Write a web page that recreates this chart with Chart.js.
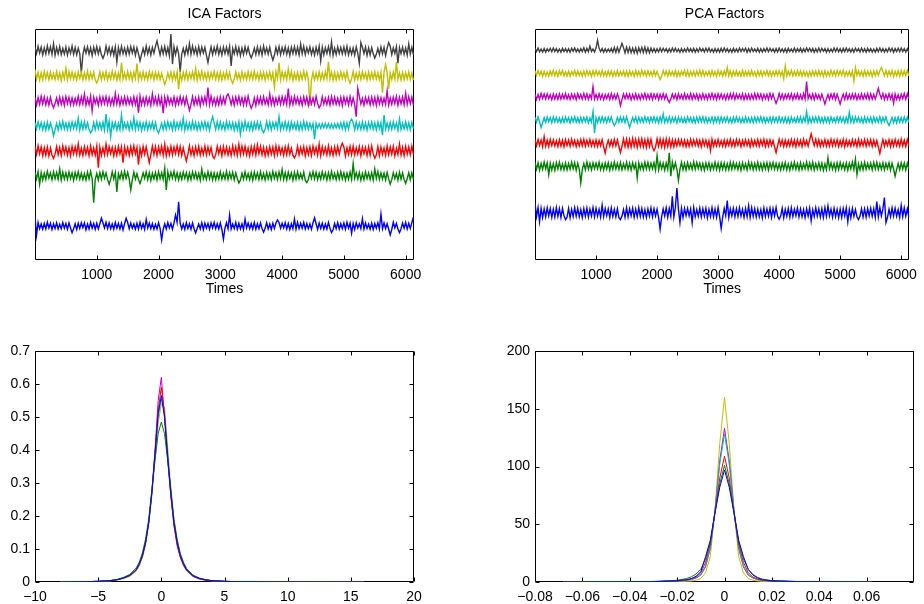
<!DOCTYPE html>
<html>
<head>
<meta charset="utf-8">
<title>ICA / PCA Factors</title>
<script src="https://cdn.jsdelivr.net/npm/chart.js@4.4.1/dist/chart.umd.min.js"></script>
<style>
  body { margin: 0; background: #fff; }
  #wrap { position: relative; width: 924px; height: 604px; }
  canvas { position: absolute; }
</style>
</head>
<body>
<div id="wrap">
  <canvas id="icaTime" width="462" height="302" style="left:0;top:0"></canvas>
  <canvas id="pcaTime" width="462" height="302" style="left:462px;top:0"></canvas>
  <canvas id="icaDens" width="462" height="302" style="left:0;top:302px"></canvas>
  <canvas id="pcaDens" width="462" height="302" style="left:462px;top:302px"></canvas>
</div>
<script>
// ---- data ----
// factor time series, one sample every 25 time steps. Values are deviations
// from the factor's stacking offset in hundredths of one offset unit.
// *Band arrays hold the dense noise, *Spikes the visible outliers [time, value].
const sampleStep = 25;
const timeMax = 6135;
const timeTicks = [1000, 2000, 3000, 4000, 5000, 6000];
const factorOffsets = [0, 2, 3, 4, 5, 6, 7];          // blue .. gray
const factorColors = ['#0000ff', '#008000', '#ff0000', '#00bfbf', '#bf00bf', '#bfbf00', '#404040'];

// ICA factors
const icaBlueBand = [
  12,-9,14,-11,8,-13,10,-12,15,-8,11,-14,9,-10,13,-12,7,-11,14,-9,
  10,-13,12,-8,15,-11,9,-14,11,-10,13,-7,12,-15,8,-12,14,-9,10,-13,
  11,-12,9,-14,13,-8,15,-10,12,-11,8,-13,14,-9,10,-12,11,-15,9,-10,
  14,-11,12,-9,8,-13,11,-12,15,-10,9,-14,13,-8,12,-11,10,-13,7,-12,
  13,-10,11,-14,9,-12,14,-8,10,-13,12,-11,15,-9,11,-12,8,-14,13,-10,
  9,-13,12,-11,14,-10,8,-12,13,-15,11,-9,10,-13,12,-8,14,-11,9,-12,
  12,-14,10,-9,13,-11,15,-12,8,-10,14,-13,11,-12,9,-14,13,-8,12,-11,
  10,-12,14,-13,9,-11,12,-10,15,-9,13,-12,8,-14,11,-10,12,-13,14,-9,
  11,-8,13,-12,10,-14,9,-11,12,-13,15,-10,11,-9,14,-12,10,-11,8,-13,
  13,-11,9,-14,12,-10,11,-13,8,-12,14,-9,12,-15,10,-11,13,-12,9,-10,
  12,-13,15,-9,11,-12,10,-14,13,-8,9,-11,14,-12,12,-10,8,-13,11,-14,
  10,-9,13,-12,14,-11,12,-10,9,-13,11,-14,15,-8,10,-12,13,-11,12,-9,
  14,-12,11,-10,13,-11];
const icaBlueSpikes = [[0,37],[25,-36],[600,-27],[1065,31],[1476,31],[1800,26],[2054,-56],[2270,44],
  [2335,97],[2600,-28],[3043,-53],[3151,44],[3400,27],[3700,-25],[3919,24],[4200,28],[4514,33],
  [4800,-26],[5135,-29],[5300,29],[5595,48],[5746,-36],[5900,-27],[6125,35]];

const icaGreenBand = [
  15,-12,17,-10,13,-16,11,-14,18,-9,12,-15,16,-11,14,-13,10,-17,15,-12,
  13,-14,16,-11,12,-18,14,-10,17,-13,11,-15,9,-16,15,-12,18,-11,13,-14,
  10,-16,14,-13,17,-9,12,-15,11,-14,16,-12,13,-17,10,-11,15,-13,18,-10,
  14,-12,11,-16,15,-13,9,-14,17,-11,12,-10,16,-15,13,-18,11,-12,14,-16,
  17,-11,13,-14,10,-15,16,-12,14,-9,18,-13,12,-16,11,-14,15,-10,13,-17,
  12,-15,16,-10,14,-13,11,-17,15,-12,9,-14,17,-11,13,-16,12,-15,10,-13,
  16,-13,10,-12,18,-14,13,-11,15,-16,12,-10,14,-17,11,-13,16,-12,9,-15,
  13,-17,15,-11,12,-14,17,-13,10,-16,14,-12,11,-15,18,-10,13,-14,16,-11,
  11,-14,13,-16,15,-10,12,-17,14,-13,16,-11,9,-12,15,-18,13,-14,12,-10,
  17,-12,14,-15,11,-13,16,-10,12,-16,13,-14,18,-11,10,-15,14,-13,17,-12,
  12,-16,11,-13,15,-14,17,-9,13,-12,14,-17,10,-15,16,-11,12,-14,13,-16,
  15,-10,18,-14,12,-13,11,-16,14,-12,17,-15,13,-11,10,-17,15,-13,12,-14,
  16,-11,13,-15,12,-14];
const icaGreenSpikes = [[81,-33],[400,28],[962,-107],[1189,-33],[1314,-64],[1551,-56],[1700,-30],
  [2100,31],[2125,-56],[2700,27],[3300,-28],[4000,26],[4400,-27],[5162,49],[5500,28],[5746,-33],[6000,-30]];

const icaRedBand = [
  18,-14,20,-12,16,-19,13,-17,15,-20,12,-16,19,-13,17,-15,14,-18,20,-11,
  15,-17,13,-20,18,-12,16,-14,19,-16,11,-18,17,-13,14,-19,20,-15,12,-17,
  19,-13,15,-18,12,-16,20,-14,17,-11,14,-19,13,-17,18,-12,16,-20,15,-14,
  13,-18,17,-15,20,-12,14,-16,11,-19,18,-13,16,-17,12,-15,19,-14,17,-18,
  16,-12,19,-17,14,-20,13,-15,18,-16,15,-11,20,-14,17,-18,12,-16,14,-13,
  20,-15,12,-19,16,-13,18,-17,11,-14,19,-16,15,-12,13,-20,17,-15,18,-11,
  14,-19,17,-13,15,-16,12,-18,20,-14,16,-17,13,-15,19,-12,18,-16,11,-20,
  17,-14,19,-16,13,-11,18,-15,14,-20,12,-17,16,-13,15,-19,20,-14,17,-12,
  12,-18,16,-15,20,-13,11,-17,19,-14,18,-16,14,-12,17,-20,13,-15,16,-18,
  19,-11,14,-17,15,-19,17,-12,13,-16,20,-15,12,-18,16,-14,18,-13,15,-17,
  16,-20,13,-14,18,-15,19,-16,12,-13,17,-19,15,-11,14,-18,16,-17,20,-12,
  13,-16,17,-19,15,-14,12,-18,19,-15,16,-13,18,-20,11,-14,17,-16,14,-19,
  18,-13,16,-15,19,-14];
const icaRedSpikes = [[300,-30],[700,28],[1027,-67],[1151,27],[1432,-47],[1676,-55],[1838,-47],
  [2108,27],[2459,-40],[2900,-30],[3300,26],[3595,24],[4200,-28],[4600,27],[4984,31],[5500,-29],[5900,27]];

const icaCyanBand = [
  14,-12,16,-10,13,-15,11,-17,15,-13,12,-9,17,-14,10,-16,13,-11,18,-12,
  11,-15,13,-14,16,-10,14,-12,9,-16,15,-13,17,-11,12,-14,10,-18,13,-15,
  16,-11,12,-13,15,-17,10,-14,18,-12,13,-10,14,-16,11,-15,17,-13,12,-9,
  13,-16,15,-11,10,-14,17,-12,14,-18,11,-13,16,-15,12,-10,15,-14,13,-17,
  17,-10,11,-15,14,-13,16,-9,12,-16,18,-14,13,-11,15,-12,10,-17,14,-13,
  12,-14,18,-12,13,-16,11,-15,14,-10,16,-13,12,-17,15,-11,13,-14,17,-12,
  15,-13,10,-16,17,-11,14,-12,13,-18,11,-15,16,-10,12,-14,18,-13,11,-16,
  13,-17,14,-11,16,-13,12,-15,10,-14,17,-12,15,-16,13,-9,14,-11,16,-15,
  11,-12,16,-14,13,-17,15,-10,12,-13,14,-16,11,-15,17,-12,13,-14,10,-11,
  9,-8,10,-9,8,-10,9,-7,10,-8,9,-9,8,-10,9,-8,10,-9,12,-11,
  14,-15,12,-13,17,-11,13,-16,15,-12,11,-14,16,-13,12,-17,14,-10,15,-13,
  12,-16,15,-11,13,-14,18,-12,11,-15,14,-13,16,-10,12,-17,13,-14,11,-12,
  16,-13,12,-15,14,-11];
const icaCyanSpikes = [[297,-40],[700,30],[900,-28],[1151,47],[1227,-43],[1395,43],[1600,32],
  [2000,-29],[2400,30],[2881,37],[3324,-33],[3700,-27],[3946,37],[4530,-53],[5124,27],[5625,-37],
  [5650,43],[5900,28]];

const icaMagentaBand = [
  15,-17,13,-14,18,-12,16,-15,11,-17,14,-13,19,-10,12,-16,15,-14,13,-18,
  17,-11,14,-16,12,-15,10,-13,18,-14,16,-12,13,-17,11,-15,19,-13,14,-10,
  12,-18,16,-13,15,-11,17,-14,13,-16,10,-15,14,-12,18,-17,12,-13,16,-14,
  14,-12,11,-17,16,-14,13,-10,19,-15,12,-16,15,-13,11,-18,17,-12,14,-15,
  18,-15,13,-11,14,-17,16,-12,10,-14,15,-18,12,-13,17,-11,13,-16,15,-12,
  11,-14,17,-16,12,-13,15,-19,14,-11,16,-12,13,-15,18,-14,10,-17,12,-16,
  16,-13,14,-12,18,-15,11,-14,13,-17,15,-10,17,-13,12,-16,14,-15,19,-11,
  13,-16,12,-18,15,-11,14,-13,17,-12,10,-15,16,-14,13,-17,11,-12,15,-14,
  17,-12,15,-14,11,-16,13,-15,18,-10,14,-13,12,-17,16,-11,15,-18,13,-12,
  12,-15,18,-11,14,-17,16,-13,10,-14,13,-16,17,-12,15,-13,11,-15,14,-19,
  15,-11,13,-16,17,-14,12,-15,16,-13,18,-12,11,-17,14,-10,13,-16,15,-14,
  14,-18,16,-12,13,-15,11,-14,17,-16,12,-13,15,-11,18,-17,14,-12,16,-15,
  13,-14,17,-12,15,-16];
const icaMagentaSpikes = [[300,-28],[795,27],[930,-40],[1300,30],[1665,-47],[1900,28],[2065,-49],
  [2497,-38],[2800,53],[3135,27],[3500,-30],[3800,27],[4108,49],[4600,-28],[5205,-63],[5232,49],
  [5703,40],[6000,30]];

const icaYellowBand = [
  16,-13,14,-17,12,-15,18,-11,13,-16,15,-12,10,-14,17,-13,12,-18,14,-11,
  13,-16,17,-12,15,-14,11,-17,16,-10,14,-15,12,-13,19,-14,13,-11,15,-17,
  11,-14,16,-15,13,-12,17,-16,10,-13,18,-11,14,-17,12,-15,16,-13,11,-14,
  17,-12,13,-18,15,-11,14,-16,12,-14,16,-13,11,-15,17,-10,13,-16,15,-12,
  14,-15,10,-13,18,-16,12,-11,15,-17,13,-14,16,-12,11,-18,14,-13,17,-15,
  12,-11,16,-14,13,-17,15,-12,19,-13,11,-16,14,-15,12,-10,18,-14,13,-16,
  15,-17,12,-13,17,-11,14,-16,13,-14,16,-12,10,-18,15,-13,11,-15,17,-12,
  13,-14,18,-12,11,-16,15,-13,14,-17,12,-11,16,-14,13,-15,17,-10,12,-16,
  16,-12,14,-15,13,-11,17,-18,12,-13,15,-16,11,-14,18,-12,14,-13,10,-17,
  14,-16,11,-13,16,-15,12,-14,17,-11,13,-12,15,-17,14,-16,12,-13,16,-11,
  12,-15,17,-14,13,-12,18,-16,11,-13,14,-15,16,-10,12,-17,15,-14,13,-12,
  17,-13,12,-16,14,-11,15,-17,13,-14,11,-15,16,-12,18,-13,12,-16,14,-15,
  13,-12,16,-14,12,-17];
const icaYellowSpikes = [[0,25],[500,30],[1000,-28],[1405,53],[1649,49],[2092,-35],[2335,-53],
  [2600,29],[3200,-30],[3876,-44],[3946,52],[4100,28],[4449,-120],[4757,56],[5100,-29],[5632,-67],
  [5686,45],[5719,-51],[5849,56]];

const icaGrayBand = [
  14,-11,18,-9,15,-16,12,-13,20,-10,16,-14,11,-18,13,-12,17,-15,10,-13,
  15,-17,12,-10,19,-14,13,-16,11,-12,18,-15,14,-9,16,-13,12,-19,15,-11,
  17,-12,13,-16,10,-14,19,-11,14,-15,12,-17,16,-10,13,-14,18,-12,11,-16,
  14,-13,17,-9,15,-18,12,-11,16,-14,10,-15,19,-12,13,-17,14,-10,18,-13,
  11,-16,15,-12,17,-14,13,-19,12,-10,16,-15,14,-11,18,-13,10,-17,15,-12,
  13,-14,19,-11,12,-16,17,-13,15,-9,14,-18,11,-12,16,-15,13,-10,19,-14,
  12,-17,15,-11,14,-13,18,-16,10,-12,17,-14,13,-19,11,-15,16,-10,14,-13,
  18,-12,11,-15,16,-14,13,-17,19,-11,12,-13,15,-16,10,-18,14,-12,17,-15,
  13,-10,16,-14,12,-19,15,-11,17,-13,14,-16,11,-12,18,-15,13,-9,16,-14,
  10,-17,14,-12,19,-13,15,-16,12,-11,17,-14,13,-18,11,-15,16,-10,14,-12,
  15,-13,18,-16,11,-14,12,-17,16,-10,19,-13,14,-11,15,-18,12,-16,13,-12,
  17,-14,10,-15,16,-12,14,-19,11,-13,18,-15,12,-10,17,-16,13,-11,15,-14,
  12,-17,16,-13,14,-15];
const icaGraySpikes = [[300,28],[740,-87],[1100,-30],[1324,-44],[1692,-40],[1984,40],[2200,67],
  [2225,-53],[2362,-84],[2500,29],[2811,-47],[3178,-60],[3500,-28],[3849,-37],[4300,27],[4632,-40],
  [4800,36],[5250,-50],[5286,33],[5500,-29],[5719,33],[5876,-49],[6050,28]];

// PCA factors
const pcaBlueBand = [
  20,-17,22,-15,19,-21,16,-18,21,-14,18,-20,15,-19,22,-16,17,-21,19,-13,
  16,-20,18,-22,14,-17,21,-15,19,-18,13,-21,17,-16,20,-19,15,-14,22,-18,
  19,-15,14,-19,21,-17,18,-13,16,-21,20,-16,14,-18,17,-22,19,-15,13,-20,
  21,-18,17,-14,19,-20,15,-17,22,-16,18,-19,13,-21,16,-15,20,-18,17,-14,
  15,-21,19,-17,16,-14,21,-20,18,-15,14,-19,22,-17,15,-16,19,-21,18,-13,
  18,-14,16,-21,22,-18,13,-16,20,-19,17,-15,19,-22,14,-17,21,-18,16,-20,
  22,-17,15,-19,18,-13,20,-21,16,-14,19,-18,17,-16,21,-15,14,-20,18,-17,
  14,-20,21,-16,17,-19,15,-18,13,-22,20,-17,16,-15,19,-21,18,-14,22,-16,
  17,-15,19,-22,14,-16,18,-20,21,-17,15,-13,20,-19,16,-18,13,-21,17,-15,
  20,-18,13,-17,21,-15,16,-19,17,-21,22,-16,18,-14,15,-20,19,-17,14,-22,
  16,-21,18,-15,20,-17,14,-22,19,-16,13,-18,21,-15,17,-19,16,-20,18,-14,
  19,-16,17,-20,15,-18,22,-14,16,-19,18,-21,14,-17,20,-15,19,-16,13,-21,
  18,-17,21,-15,16,-19];
const pcaBlueSpikes = [[0,41],[75,-39],[500,-30],[1100,32],[1400,-30],[2038,-71],[2259,70],[2324,106],
  [2378,-43],[2578,-43],[3043,-68],[3151,52],[3500,30],[4000,-28],[4514,-35],[4800,29],[5135,-39],
  [5300,-30],[5595,48],[5719,65],[5746,-43],[6000,31]];

const pcaGreenBand = [
  16,-13,15,-17,12,-14,18,-11,14,-15,13,-16,11,-18,15,-12,17,-14,10,-15,
  14,-16,12,-13,17,-11,15,-18,13,-12,16,-14,11,-15,18,-13,12,-16,14,-10,
  13,-11,17,-15,10,-16,14,-12,15,-17,12,-13,18,-11,13,-14,16,-15,11,-12,
  17,-14,13,-16,15,-10,12,-18,14,-13,11,-15,17,-12,16,-14,13,-11,15,-17,
  12,-15,16,-11,13,-17,14,-13,10,-16,18,-12,15,-14,11,-13,17,-15,12,-16,
  15,-12,11,-14,18,-13,16,-10,13,-15,12,-17,14,-11,15,-16,10,-13,17,-14,
  13,-17,15,-12,14,-16,11,-15,17,-13,16,-11,12,-14,13,-18,15,-12,11,-16,
  18,-11,14,-15,12,-13,17,-14,11,-16,13,-12,15,-17,14,-10,16,-13,12,-15,
  11,-16,13,-12,16,-15,10,-17,14,-11,17,-13,12,-16,15,-14,11,-12,18,-13,
  14,-13,17,-16,11,-12,15,-14,13,-18,10,-15,16,-11,14,-13,12,-17,15,-14,
  16,-10,12,-15,14,-17,13,-11,18,-14,15,-12,11,-16,13,-15,17,-13,12,-11,
  13,-15,16,-12,17,-14,11,-13,14,-16,12,-10,15,-17,13,-12,16,-14,11,-15,
  15,-12,14,-16,13,-11];
const pcaGreenSpikes = [[216,-36],[740,-72],[1676,-51],[1989,46],[2200,58],[2225,-43],[2362,-61],
  [4795,36],[5250,30],[5286,-36],[5892,-43]];

const pcaRedBand = [
  14,-12,15,-10,13,-16,11,-14,12,-15,16,-11,13,-12,10,-15,14,-13,12,-16,
  15,-11,13,-14,16,-10,12,-15,11,-13,14,-12,16,-14,12,-11,15,-13,10,-14,
  13,-15,11,-12,14,-16,15,-10,12,-13,11,-14,16,-12,13,-15,17,-14,18,-16,
  17,-18,15,-17,19,-14,16,-18,17,-15,18,-16,14,-19,17,-15,16,-18,15,-17,
  18,-14,17,-16,15,-19,18,-15,16,-17,14,-16,13,-12,15,-11,14,-13,12,-15,
  11,-14,16,-12,13,-10,15,-13,12,-16,14,-11,13,-15,10,-12,16,-14,11,-13,
  15,-12,10,-14,13,-15,12,-11,16,-13,11,-14,15,-10,13,-16,12,-12,14,-11,
  12,-16,14,-13,11,-12,15,-14,13,-10,16,-15,12,-13,14,-11,10,-16,13,-12,
  16,-10,13,-15,12,-14,11,-13,15,-12,13,-16,14,-11,12,-15,16,-10,11,-14,
  13,-14,12,-11,16,-13,14,-15,10,-12,15,-14,11,-13,16,-12,13,-11,14,-15,
  11,-13,15,-16,13,-12,10,-14,14,-11,12,-15,16,-13,11,-12,15,-14,13,-10,
  14,-15,12,-13,11,-16,13,-12,15,-14,10,-11,14,-16,12,-13,15,-12,11,-14,
  16,-13,12,-15,14,-11];
const pcaRedSpikes = [[150,28],[1151,-43],[1389,-41],[1946,-33],[2881,-33],[3946,-41],[4524,39],[5649,-45]];

const pcaCyanBand = [
  11,-10,12,-9,10,-13,9,-11,12,-8,10,-12,13,-9,11,-10,8,-12,10,-11,
  12,-9,10,-13,11,-8,13,-10,9,-12,11,-11,10,-9,12,-13,8,-10,11,-12,
  9,-12,11,-10,13,-9,10,-12,11,-8,12,-11,9,-13,10,-10,12,-9,11,-12,
  13,-11,8,-12,10,-9,12,-13,11,-10,9,-11,13,-8,10,-12,11,-9,12,-10,
  10,-13,12,-9,11,-11,9,-10,13,-12,10,-8,11,-13,12,-9,10,-11,9,-12,
  12,-8,10,-11,9,-13,11,-10,12,-9,13,-11,10,-12,8,-10,12,-13,11,-9,
  11,-12,13,-10,10,-9,12,-11,8,-13,11,-10,12,-9,10,-12,9,-11,13,-10,
  9,-11,10,-12,12,-10,11,-8,13,-11,10,-13,9,-10,11,-12,12,-9,10,-11,
  13,-10,9,-11,11,-12,10,-13,12,-9,8,-11,12,-10,13,-12,11,-8,10,-13,
  10,-12,11,-9,12,-10,13,-11,9,-12,11,-10,10,-13,12,-9,8,-11,12,-10,
  12,-9,10,-13,11,-11,9,-10,12,-12,13,-8,11,-10,9,-13,12,-11,10,-9,
  11,-13,12,-10,9,-11,13,-12,10,-8,12,-11,11,-9,10,-12,9,-13,12,-10,
  10,-11,12,-9,11,-12];
const pcaCyanSpikes = [[92,-33],[945,35],[970,-58],[1297,-25],[1541,-33],[2108,25],[4449,35],
  [5151,32],[5800,-25]];

const pcaMagentaBand = [
  10,-12,9,-11,13,-8,11,-10,12,-9,8,-13,11,-10,9,-12,12,-11,10,-9,
  13,-10,8,-12,11,-9,10,-13,12,-8,9,-11,13,-10,11,-12,8,-9,12,-11,
  9,-11,12,-10,10,-13,8,-9,11,-12,13,-10,9,-11,12,-8,10,-13,11,-9,
  12,-8,11,-13,9,-10,12,-11,8,-12,10,-9,13,-11,9,-10,12,-12,11,-8,
  11,-13,10,-9,12,-11,9,-12,13,-10,11,-8,10,-13,12,-9,8,-11,13,-10,
  8,-10,13,-12,10,-9,11,-13,9,-11,12,-10,8,-12,11,-9,13,-10,10,-12,
  12,-9,11,-10,8,-13,10,-11,12,-9,13,-12,11,-8,9,-10,12,-13,10,-11,
  10,-12,9,-11,13,-10,12,-8,11,-13,9,-10,10,-12,13,-9,11,-11,8,-13,
  13,-11,10,-12,9,-8,11,-10,12,-13,10,-9,12,-11,8,-12,13,-10,11,-9,
  9,-10,12,-13,11,-9,8,-12,10,-11,13,-10,9,-12,11,-8,12,-13,10,-11,
  11,-8,10,-12,13,-11,9,-10,12,-9,11,-13,8,-10,12,-11,10,-9,13,-12,
  12,-11,9,-10,11,-13,10,-8,13,-12,9,-11,12,-10,10,-9,11,-12,8,-13,
  10,-9,13,-11,12,-10];
const pcaMagentaSpikes = [[957,43],[1389,-39],[2189,-25],[3946,-29],[4449,65],[4757,-32],[5000,-32],
  [5622,36],[5865,-28]];

const pcaYellowBand = [
  11,-9,12,-8,10,-13,9,-11,7,-12,10,-8,13,-10,9,-12,11,-7,12,-10,
  8,-11,10,-12,9,-7,13,-10,11,-9,8,-12,10,-11,12,-8,9,-13,11,-10,
  12,-8,9,-11,13,-10,7,-12,10,-9,11,-13,8,-10,12,-11,9,-8,10,-12,
  10,-12,11,-9,8,-13,12,-10,9,-11,13,-8,10,-12,11,-9,7,-11,12,-10,
  9,-10,13,-11,12,-8,10,-12,11,-9,8,-10,12,-13,9,-11,10,-7,13,-12,
  11,-13,8,-10,9,-12,11,-9,13,-10,12,-11,7,-9,10,-12,11,-10,8,-13,
  13,-9,10,-12,11,-8,9,-11,12,-13,10,-9,11,-10,8,-12,13,-11,9,-10,
  10,-11,12,-10,7,-13,11,-9,10,-12,9,-8,12,-11,10,-13,8,-10,11,-9,
  12,-10,9,-13,11,-12,10,-8,13,-11,9,-10,12,-9,11,-12,10,-11,7,-13,
  8,-12,11,-9,10,-11,12,-10,9,-13,11,-12,8,-10,13,-9,10,-11,12,-8,
  11,-9,13,-12,8,-10,9,-11,10,-13,12,-8,11,-10,9,-12,13,-11,10,-9,
  9,-13,10,-11,12,-9,11,-12,8,-10,13,-11,10,-9,12,-13,9,-10,11,-12,
  12,-10,11,-9,13,-11];
const pcaYellowSpikes = [[2054,-26],[3162,25],[4081,-23],[4108,32],[5216,-33],[5243,25],[5676,25]];

const pcaGrayBand = [
  8,-6,9,-7,5,-8,7,-9,6,-5,8,-7,9,-6,7,-8,5,-9,8,-6,
  7,-8,6,-9,8,-5,9,-7,6,-8,7,-6,10,-9,8,-7,9,-6,5,-8,
  9,-7,8,-6,7,-9,6,-8,5,-7,8,-9,11,-10,12,-9,10,-13,11,-12,
  13,-10,12,-11,9,-12,10,-14,11,-9,12,-10,13,-11,10,-12,9,-8,7,-9,
  6,-8,9,-7,8,-5,7,-9,6,-8,9,-6,8,-7,5,-9,7,-8,6,-7,
  9,-6,7,-8,8,-9,6,-7,9,-5,7,-8,8,-6,9,-7,5,-9,7,-8,
  6,-9,8,-7,9,-6,7,-8,5,-9,8,-7,6,-8,9,-6,7,-5,8,-9,
  7,-8,9,-6,5,-7,8,-9,6,-8,7,-6,9,-7,8,-5,6,-9,7,-8,
  9,-7,6,-8,7,-9,8,-6,5,-7,9,-8,7,-6,8,-9,6,-7,9,-5,
  8,-6,7,-9,6,-8,9,-7,8,-5,7,-9,6,-8,5,-7,9,-6,8,-7,
  6,-9,8,-7,9,-6,7,-8,6,-9,8,-5,7,-8,9,-7,6,-9,8,-6,
  7,-8,5,-9,8,-7,9,-6,7,-8,6,-7,9,-5,8,-9,7,-6,8,-7,
  9,-6,7,-8,6,-9];
const pcaGraySpikes = [[892,17],[1027,43],[1422,29]];

// kernel density estimates of the factors
const icaDensX = [-8,-6,-5,-4,-3.5,-3,-2.5,-2,-1.75,-1.5,-1.25,-1,-0.75,-0.5,-0.25,0,
  0.25,0.5,0.75,1,1.25,1.5,1.75,2,2.5,3,3.5,4,5,6,8,10,12,14,16];
const icaDensBlue = [0,0.001,0.002,0.004,0.007,0.012,0.02,0.037,0.054,0.08,0.12,0.18,0.27,0.39,0.51,0.565,
  0.5,0.38,0.27,0.18,0.12,0.08,0.055,0.037,0.019,0.011,0.007,0.004,0.002,0.001,0.0005,0,0,0,0];
const icaDensGreen = [0,0.001,0.002,0.005,0.008,0.014,0.023,0.042,0.06,0.088,0.13,0.19,0.28,0.37,0.45,0.485,
  0.45,0.37,0.28,0.19,0.13,0.087,0.06,0.041,0.021,0.012,0.007,0.004,0.002,0.001,0.0005,0,0,0,0];
const icaDensRed = [0,0.001,0.002,0.004,0.007,0.012,0.02,0.036,0.053,0.078,0.118,0.178,0.27,0.39,0.52,0.59,
  0.51,0.38,0.265,0.175,0.115,0.078,0.053,0.036,0.018,0.01,0.006,0.004,0.002,0.001,0.0005,0,0,0,0];
const icaDensCyan = [0,0.001,0.002,0.004,0.007,0.012,0.02,0.036,0.053,0.079,0.12,0.18,0.27,0.38,0.5,0.555,
  0.51,0.39,0.275,0.18,0.12,0.08,0.054,0.036,0.018,0.01,0.006,0.004,0.002,0.001,0.0005,0,0,0,0];
const icaDensMagenta = [0,0.001,0.002,0.004,0.007,0.012,0.019,0.035,0.052,0.078,0.118,0.18,0.275,0.4,0.55,0.62,
  0.5,0.37,0.26,0.17,0.11,0.074,0.05,0.034,0.017,0.009,0.005,0.003,0.002,0.001,0.0005,0,0,0,0];
const icaDensYellow = [0,0.001,0.002,0.004,0.006,0.01,0.017,0.032,0.048,0.073,0.11,0.17,0.26,0.37,0.48,0.54,
  0.53,0.41,0.29,0.19,0.125,0.083,0.056,0.037,0.019,0.011,0.007,0.004,0.002,0.001,0.001,0.0005,0.0003,0.0002,0];

const pcaDensX = [-0.068,-0.04,-0.03,-0.02,-0.016,-0.014,-0.012,-0.01,-0.008,-0.006,-0.004,-0.002,0,
  0.002,0.004,0.006,0.008,0.01,0.012,0.014,0.016,0.02,0.03,0.04,0.062];
const pcaDensBlue = [0,0.1,0.3,1,2,3,5,9,22,36,60,82,97,82,60,36,22,11,6,3.5,2,1,0.4,0.2,0];
const pcaDensGreen = [0,0.2,0.5,1.5,3,4.5,7,11,20,35,60,85,101,85,60,35,20,11,6.5,4,2.5,1.2,0.5,0.2,0];
const pcaDensRed = [0,0.1,0.3,1,1.8,2.7,4.3,8,17,33,61,90,109,90,60,33,17,8,4.3,2.5,1.7,0.9,0.3,0.1,0];
const pcaDensCyan = [0,0.1,0.3,0.8,1.5,2.3,3.6,6.5,14,30,62,102,128,102,62,30,14,6.5,3.6,2.2,1.4,0.8,0.3,0.1,0];
const pcaDensMagenta = [0,0.1,0.3,0.8,1.5,2.2,3.4,6,13,29,62,105,133,105,62,29,13,6,3.4,2.1,1.3,0.7,0.3,0.1,0];
const pcaDensYellow = [0,0,0.1,0.3,0.6,0.9,1.5,3,8,22,62,120,160,120,62,22,8,3,1.5,0.9,0.5,0.2,0.1,0,0];

const icaDensTicksX = [-10, -5, 0, 5, 10, 15, 20];
const icaDensTicksY = [0, 0.1, 0.2, 0.3, 0.4, 0.5, 0.6, 0.7];
const pcaDensTicksX = [-0.08, -0.06, -0.04, -0.02, 0, 0.02, 0.04, 0.06];
const pcaDensTicksY = [0, 50, 100, 150, 200];

// ---- drawing ----
Chart.defaults.font.family = '"Liberation Sans", Arial, Helvetica, sans-serif';
Chart.defaults.font.size = 14;
Chart.defaults.color = '#000';

// MATLAB style axes: full box with inward tick marks, drawn under the data
const matlabBox = {
  id: 'matlabBox',
  beforeDatasetsDraw(chart, args, opts) {
    const { ctx, chartArea: a, scales } = chart;
    const L = Math.round(a.left) + 0.5, R = Math.round(a.right) - 0.5;
    const T = Math.round(a.top) + 0.5, B = Math.round(a.bottom) - 0.5;
    const len = 4;
    ctx.save();
    ctx.strokeStyle = '#000';
    ctx.lineWidth = 1;
    ctx.beginPath();
    ctx.rect(L, T, R - L, B - T);
    scales.x.ticks.forEach(t => {
      const px = Math.round(scales.x.getPixelForValue(t.value)) + 0.5;
      ctx.moveTo(px, B); ctx.lineTo(px, B - len);
      ctx.moveTo(px, T); ctx.lineTo(px, T + len);
    });
    if (opts.yTicks) {
      scales.y.ticks.forEach(t => {
        const py = Math.round(scales.y.getPixelForValue(t.value)) + 0.5;
        ctx.moveTo(L, py); ctx.lineTo(L + len, py);
        ctx.moveTo(R, py); ctx.lineTo(R - len, py);
      });
    }
    ctx.stroke();
    ctx.restore();
  }
};

const fmt = v => String(v).replace('-', '\u2212');

function fixedTicks(list) {
  return s => { s.ticks = list.map(v => ({ value: v })); };
}

function withSpikes(band, spikes) {
  const vals = band.slice();
  spikes.forEach(([t, v]) => { vals[Math.round(t / sampleStep)] = v; });
  return vals;
}

function timeChart(id, title, series, yMin, yMax, leftPad, rightPad) {
  const datasets = series.map((vals, k) => ({
    data: vals.map((v, i) => ({ x: i * sampleStep, y: factorOffsets[k] + v / 100 })),
    borderColor: factorColors[k],
    borderWidth: 1.4,
    pointRadius: 0,
    fill: false
  }));
  return new Chart(document.getElementById(id), {
    type: 'line',
    data: { datasets },
    plugins: [matlabBox],
    options: {
      responsive: false,
      animation: false,
      events: [],
      layout: { padding: { left: leftPad, right: rightPad, top: 0, bottom: 0 } },
      scales: {
        x: {
          type: 'linear', min: 0, max: timeMax,
          grid: { display: false, drawTicks: false },
          border: { display: false },
          afterBuildTicks: fixedTicks(timeTicks),
          afterFit: s => { s.height = 42; },
          ticks: { autoSkip: false, maxRotation: 0, padding: 7, callback: v => String(v) },
          title: { display: true, text: 'Times', padding: { top: 0, bottom: 4 } }
        },
        y: { type: 'linear', display: false, min: yMin, max: yMax }
      },
      plugins: {
        legend: { display: false },
        tooltip: { enabled: false },
        title: { display: true, text: title, font: { weight: 'normal' }, padding: { top: 6, bottom: 6 } },
        matlabBox: { yTicks: false }
      }
    }
  });
}

function densChart(id, xs, curves, xMin, xMax, xTicks, yMax, yTicks, yWidth, rightPad) {
  const datasets = curves.map((vals, k) => ({
    data: xs.map((x, i) => ({ x, y: vals[i] })),
    borderColor: factorColors[k],
    borderWidth: 1,
    pointRadius: 0,
    fill: false
  }));
  return new Chart(document.getElementById(id), {
    type: 'line',
    data: { datasets },
    plugins: [matlabBox],
    options: {
      responsive: false,
      animation: false,
      events: [],
      layout: { padding: { left: 0, right: rightPad, top: 49, bottom: 0 } },
      scales: {
        x: {
          type: 'linear', min: xMin, max: xMax,
          grid: { display: false, drawTicks: false },
          border: { display: false },
          afterBuildTicks: fixedTicks(xTicks),
          afterFit: s => { s.height = 22; },
          ticks: { autoSkip: false, maxRotation: 0, padding: 7, callback: fmt }
        },
        y: {
          type: 'linear', min: 0, max: yMax,
          grid: { display: false, drawTicks: false },
          border: { display: false },
          afterBuildTicks: fixedTicks(yTicks),
          afterFit: s => { s.width = yWidth; },
          ticks: { autoSkip: false, padding: 5, callback: fmt }
        }
      },
      plugins: {
        legend: { display: false },
        tooltip: { enabled: false },
        matlabBox: { yTicks: true }
      }
    }
  });
}

timeChart('icaTime', 'ICA Factors', [
  withSpikes(icaBlueBand, icaBlueSpikes),
  withSpikes(icaGreenBand, icaGreenSpikes),
  withSpikes(icaRedBand, icaRedSpikes),
  withSpikes(icaCyanBand, icaCyanSpikes),
  withSpikes(icaMagentaBand, icaMagentaSpikes),
  withSpikes(icaYellowBand, icaYellowSpikes),
  withSpikes(icaGrayBand, icaGraySpikes)
], -1.36, 7.88, 35, 48);

timeChart('pcaTime', 'PCA Factors', [
  withSpikes(pcaBlueBand, pcaBlueSpikes),
  withSpikes(pcaGreenBand, pcaGreenSpikes),
  withSpikes(pcaRedBand, pcaRedSpikes),
  withSpikes(pcaCyanBand, pcaCyanSpikes),
  withSpikes(pcaMagentaBand, pcaMagentaSpikes),
  withSpikes(pcaYellowBand, pcaYellowSpikes),
  withSpikes(pcaGrayBand, pcaGraySpikes)
], -2.04, 7.92, 73, 10);

densChart('icaDens', icaDensX,
  [icaDensBlue, icaDensGreen, icaDensRed, icaDensCyan, icaDensMagenta, icaDensYellow],
  -10, 20, icaDensTicksX, 0.7, icaDensTicksY, 35, 48);
densChart('pcaDens', pcaDensX,
  [pcaDensBlue, pcaDensGreen, pcaDensRed, pcaDensCyan, pcaDensMagenta, pcaDensYellow],
  -0.08, 0.08, pcaDensTicksX, 200, pcaDensTicksY, 73, 10);
</script>
</body>
</html>
